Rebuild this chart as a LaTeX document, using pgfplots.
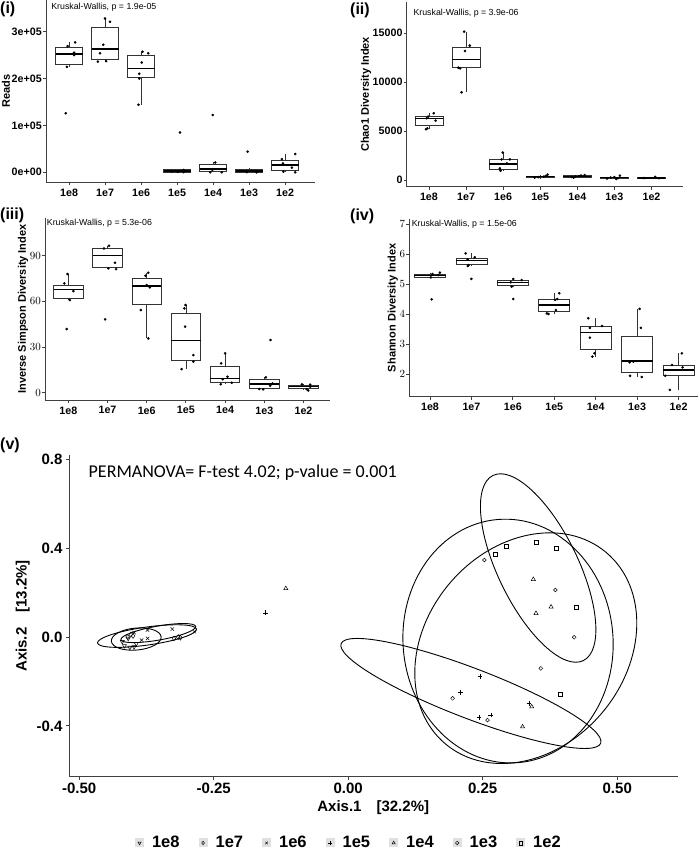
\documentclass[border=0pt]{standalone}
\usepackage{pgfplots}
\pgfplotsset{compat=1.18}
\usepgfplotslibrary{statistics}
\usepackage{fontspec}
\setmainfont{Liberation Sans}
\newfontfamily\calibri{Carlito}

\tikzset{kw/.style={anchor=west, inner sep=0pt, font=\fontsize{8.8}{10}\selectfont}}
\pgfplotsset{
  box panel/.style={
    scale only axis, anchor=south west, clip=false,
    axis lines*=left,
    axis line style={draw=black!75, line width=0.9pt},
    tick style={draw=black!75, line width=0.8pt},
    major tick length=3pt, tick align=outside,
    xtick={1,...,7},
    xticklabels={1e8,1e7,1e6,1e5,1e4,1e3,1e2},
    scaled y ticks=false,
    tick label style={font=\fontsize{10.7}{12}\selectfont\bfseries},
    yticklabel style={inner sep=1pt},
    ylabel style={font=\fontsize{11}{13}\selectfont\bfseries, inner sep=0.5pt},
    boxplot/draw direction=y,
    boxplot/box extend=0.75,
    boxplot/whisker extend=0,
    boxplot/every box/.style={draw=black!80, line width=0.7pt, fill=white},
    boxplot/every whisker/.style={draw=black!80, line width=0.7pt},
    boxplot/every median/.style={draw=black, line width=1.3pt},
  },
  dots/.style={only marks, mark=*, mark size=1.1pt, black},
  leg/.style={legend image code/.code={
      \fill[black!12, draw=none] (0pt,-4.5pt) rectangle (9pt,4.5pt);
      \draw[only marks,##1,mark size=1.8pt] plot coordinates {(4.5pt,0pt)};
      \path[draw=none, fill=none] (0pt,0pt) rectangle (15pt,0.1pt);}},
  pcoa/.style={only marks, black, line width=0.5pt, mark size=2.4pt, leg},
}
\newcommand{\bx}[6]{\addplot[black, boxplot prepared={draw position=#1,
  lower whisker=#2, lower quartile=#3, median=#4, upper quartile=#5,
  upper whisker=#6}] coordinates {};}

\begin{document}
\begin{tikzpicture}
\useasboundingbox (0pt,0pt) rectangle (700pt,-852pt);

% (i) reads, in units of 1e5
\begin{axis}[box panel, at={(46pt,-182.3pt)}, width=269pt, height=182.3pt,
  xmin=0.36, xmax=7.83, ymin=-0.213, ymax=3.674,
  ytick={0,1,2,3}, yticklabels={0e+00,1e+05,2e+05,3e+05},
  ylabel={Reads}]
\bx{1}{2.25}{2.30}{2.52}{2.66}{2.77}
\bx{2}{2.36}{2.41}{2.63}{3.09}{3.28}
\bx{3}{1.44}{2.03}{2.22}{2.49}{2.57}
\bx{4}{0.002}{0.008}{0.03}{0.065}{0.08}
\bx{5}{0.003}{0.025}{0.07}{0.17}{0.21}
\bx{6}{0}{0.005}{0.03}{0.065}{0.09}
\bx{7}{0}{0.036}{0.156}{0.25}{0.39}
\addplot[dots] coordinates {
 (1.17,2.77) (0.96,2.69) (1.14,2.55) (1.14,2.50) (0.94,2.25) (0.91,1.26)
 (2.0,3.28) (2.14,3.21) (1.95,2.72) (1.86,2.54) (1.80,2.36) (2.03,2.37)
 (3.04,2.57) (3.20,2.54) (3.02,2.34) (2.95,2.10) (2.95,2.00) (2.93,1.44)
 (4.08,0.85) (3.85,0.015) (4.18,0.05) (4.18,0.003) (4.02,0.01)
 (5.06,0.21) (4.98,0.05) (4.92,0.002) (5.24,0.002) (4.99,1.22)
 (5.96,0.44) (6.07,0.035) (5.94,0.003) (6.21,0)
 (7.28,0.39) (6.91,0.28) (6.94,0.19) (7.19,0.10) (6.95,0.014) (7.28,0)};
\node[kw] at (rel axis cs:0.019,0.962) {Kruskal-Wallis, p = 1.9e-05};
\end{axis}

% (ii) chao1, in thousands
\begin{axis}[box panel, at={(406.7pt,-186.7pt)}, width=276.3pt, height=184.7pt,
  xmin=0.40, xmax=7.85, ymin=-0.685, ymax=18.2,
  ytick={0,5,10,15}, yticklabels={0,5000,10000,15000},
  ylabel={Chao1 Diversity Index}]
\bx{1}{5.18}{5.58}{6.31}{6.48}{6.82}
\bx{2}{8.97}{11.49}{12.34}{13.57}{15.17}
\bx{3}{0.955}{1.09}{1.64}{2.11}{2.80}
\bx{4}{0.20}{0.25}{0.33}{0.42}{0.55}
\bx{5}{0.25}{0.28}{0.38}{0.43}{0.50}
\bx{6}{0.10}{0.18}{0.26}{0.32}{0.45}
\bx{7}{0.15}{0.18}{0.22}{0.26}{0.32}
\addplot[dots] coordinates {
 (1.13,6.82) (0.98,6.48) (1.18,6.07) (0.94,6.31) (0.96,5.28) (0.92,5.18)
 (1.95,15.17) (2.10,13.74) (1.97,13.19) (1.79,11.49) (1.84,11.42) (1.88,8.97)
 (2.99,2.80) (3.18,2.11) (2.96,2.11) (2.91,1.19) (2.93,0.955) (3.10,1.70)
 (3.85,0.25) (3.95,0.30) (4.1,0.35) (4.15,0.42) (4.2,0.55)
 (4.85,0.30) (4.95,0.35) (5.05,0.40) (5.1,0.45) (5.2,0.50) (4.9,0.25)
 (5.8,0.15) (5.9,0.25) (6.0,0.30) (6.1,0.20) (6.15,0.45) (6.05,0.10)
 (6.8,0.20) (7.1,0.32) (7.2,0.18)};
\node[kw] at (rel axis cs:0.024,0.939) {Kruskal-Wallis, p = 3.9e-06};
\end{axis}

% (iii) inverse simpson
\begin{axis}[box panel, at={(45pt,-400pt)}, width=285pt, height=182pt,
  xmin=0.406, xmax=7.676, ymin=-4.8, ymax=114.8,
  ytick={0,30,60,90},
  ylabel={Inverse Simpson Diversity Index}]
\bx{1}{60.9}{62.0}{67.9}{70.3}{78}
\bx{2}{81.2}{82.1}{90.0}{94.8}{96.6}
\bx{3}{35.7}{58.0}{70.1}{75.1}{78.8}
\bx{4}{15.5}{21.2}{34.2}{52.1}{57.6}
\bx{5}{5.5}{7.0}{9.2}{17.1}{25.8}
\bx{6}{2.2}{2.8}{5.7}{9.0}{10.1}
\bx{7}{1.5}{2.6}{3.9}{4.8}{5.5}
\addplot[dots] coordinates {
 (0.98,78) (0.90,71.8) (1.13,66.8) (1.04,60.9) (0.96,41.8)
 (2.04,96.6) (1.91,94.8) (2.19,85.4) (2.22,81.2) (2.02,81.7) (1.94,48.2)
 (3.04,78.8) (2.97,76.9) (3.0,70.7) (3.08,69.2) (2.85,54.3) (3.04,35.7)
 (3.99,57.6) (3.96,55.4) (3.98,43.4) (4.19,24.7) (4.19,20.4) (3.89,15.5)
 (5.0,25.8) (4.9,19.3) (5.06,10.5) (4.94,8.8) (5.17,6.6) (4.89,5.5)
 (6.16,34.6) (6.04,10.1) (6.21,6.1) (6.15,4.6) (5.87,2.4) (5.97,2.2)
 (6.96,5.5) (7.17,5.3) (7.17,3.9) (7.08,2.4) (7.12,1.5)};
\node[kw] at (rel axis cs:0.006,0.971) {Kruskal-Wallis, p = 5.3e-06};
\end{axis}

% (iv) shannon
\begin{axis}[box panel, at={(409.3pt,-396.7pt)}, width=288.7pt, height=177.7pt,
  xmin=0.5, xmax=7.47, ymin=1.243, ymax=7.167,
  ytick={2,...,7},
  ylabel={Shannon Diversity Index}]
\bx{1}{5.22}{5.23}{5.28}{5.33}{5.38}
\bx{2}{5.60}{5.65}{5.78}{5.86}{6.02}
\bx{3}{4.91}{4.97}{5.06}{5.13}{5.17}
\bx{4}{4.00}{4.10}{4.30}{4.49}{4.69}
\bx{5}{2.58}{2.82}{3.39}{3.60}{3.86}
\bx{6}{1.90}{2.06}{2.43}{3.27}{4.17}
\bx{7}{1.47}{1.94}{2.13}{2.28}{2.69}
\addplot[dots] coordinates {
 (1.24,5.38) (1.06,5.33) (1.20,5.30) (1.02,5.22) (1.04,4.49)
 (1.86,6.02) (2.08,5.89) (1.91,5.82) (1.93,5.63) (1.91,5.60) (2.0,5.17)
 (3.01,5.17) (3.21,5.13) (2.95,5.06) (2.97,4.91) (3.01,4.50)
 (4.12,4.69) (4.07,4.50) (4.02,4.47) (4.04,4.13) (3.82,4.02) (3.86,4.0)
 (4.82,3.86) (5.15,3.60) (4.86,3.54) (4.86,3.21) (4.97,2.69) (4.92,2.58)
 (6.06,4.17) (6.09,3.54) (5.91,2.41) (5.82,2.39) (5.83,1.94) (6.11,1.90)
 (7.08,2.69) (6.84,2.30) (7.10,2.22) (6.68,1.94) (6.79,1.47)};
\node[kw] at (rel axis cs:0.008,0.972) {Kruskal-Wallis, p = 1.5e-06};
\end{axis}

% (v) PCoA
\begin{axis}[scale only axis, anchor=south west, clip=false,
  at={(69pt,-776.7pt)}, width=608.5pt, height=321.7pt,
  xmin=-0.519, xmax=0.612, ymin=-0.629, ymax=0.82,
  axis lines*=left,
  axis line style={draw=black!75, line width=0.9pt},
  tick style={draw=black!75, line width=0.8pt},
  major tick length=3pt, tick align=outside,
  xtick={-0.5,-0.25,0,0.25,0.5}, xticklabels={-0.50,-0.25,0.00,0.25,0.50},
  ytick={-0.4,0,0.4,0.8}, yticklabels={-0.4,0.0,0.4,0.8},
  tick label style={font=\fontsize{15}{17}\selectfont\bfseries},
  label style={font=\fontsize{15}{17}\selectfont\bfseries},
  xlabel={Axis.1\quad[32.2\%]}, ylabel={Axis.2\quad[13.2\%]},
  legend columns=7,
  legend style={at={(0.460,-0.206)}, anchor=center, draw=none, fill=none,
    font=\fontsize{16.5}{18}\selectfont\bfseries,
    /tikz/every even column/.append style={column sep=17pt}},
]
\addplot[pcoa, mark=triangle, mark options={rotate=180}] coordinates {
 (-0.416,-0.039) (-0.406,-0.046) (-0.398,-0.044) (-0.409,-0.006) (-0.394,-0.03) (-0.42,-0.02)};
\addlegendentry{1e8}
\addplot[pcoa, mark=diamond] coordinates {
 (-0.410,0.001) (-0.400,0.005) (-0.324,-0.006) (-0.312,-0.003) (-0.404,0.012) (-0.316,0.0)};
\addlegendentry{1e7}
\addplot[pcoa, mark=x] coordinates {
 (-0.373,0.032) (-0.327,0.036) (-0.286,0.024) (-0.384,-0.014) (-0.373,-0.006) (-0.398,0.02)};
\addlegendentry{1e6}
\addplot[pcoa, mark=+] coordinates {
 (-0.154,0.109) (0.245,-0.176) (0.209,-0.249) (0.243,-0.362) (0.265,-0.351) (0.336,-0.299)};
\addlegendentry{1e5}
\addplot[pcoa, mark=triangle] coordinates {
 (-0.116,0.219) (0.344,0.260) (0.377,0.136) (0.349,0.107) (0.341,-0.314) (0.324,-0.404)};
\addlegendentry{1e4}
\addplot[pcoa, mark=o, mark size=1.9pt] coordinates {
 (0.253,0.347) (0.385,0.212) (0.420,-0.001) (0.358,-0.141) (0.194,-0.276) (0.259,-0.374)};
\addlegendentry{1e3}
\addplot[pcoa, mark=square, mark size=2pt] coordinates {
 (0.294,0.407) (0.274,0.374) (0.349,0.429) (0.386,0.400) (0.423,0.134) (0.394,-0.257)};
\addlegendentry{1e2}
% ellipses
\draw[line width=0.9pt, rotate around={-64:(axis cs:0.353,0.311)}] (axis cs:0.353,0.311) ellipse [x radius=103pt, y radius=40pt];
\draw[line width=0.9pt, rotate around={5:(axis cs:0.297,-0.018)}] (axis cs:0.297,-0.018) ellipse [x radius=105pt, y radius=122pt];
\draw[line width=0.9pt, rotate around={50:(axis cs:0.330,-0.050)}] (axis cs:0.330,-0.050) ellipse [x radius=125pt, y radius=100pt];
\draw[line width=0.9pt, rotate around={-21:(axis cs:0.228,-0.254)}] (axis cs:0.228,-0.254) ellipse [x radius=139pt, y radius=25pt];
\draw[line width=0.9pt, rotate around={8:(axis cs:-0.374,0.0045)}] (axis cs:-0.374,0.0045) ellipse [x radius=50pt, y radius=9pt];
\draw[line width=0.9pt, rotate around={5:(axis cs:-0.394,-0.009)}] (axis cs:-0.394,-0.009) ellipse [x radius=25pt, y radius=11pt];
\draw[line width=0.9pt, rotate around={10:(axis cs:-0.353,0.018)}] (axis cs:-0.353,0.018) ellipse [x radius=38pt, y radius=7pt];
\node[anchor=west, inner sep=0pt, font=\calibri\fontsize{18}{20}\selectfont] at (rel axis cs:0.032,0.945) {PERMANOVA= F-test 4.02; p-value = 0.001};
\end{axis}

% panel labels
\begin{scope}[every node/.style={anchor=west, inner sep=0pt, font=\fontsize{16}{18}\selectfont\bfseries}]
\node at (0pt,-9pt) {(i)};
\node at (350pt,-10pt) {(ii)};
\node at (0pt,-215pt) {(iii)};
\node at (350pt,-216pt) {(iv)};
\node at (0pt,-445pt) {(v)};
\end{scope}
\end{tikzpicture}
\end{document}
